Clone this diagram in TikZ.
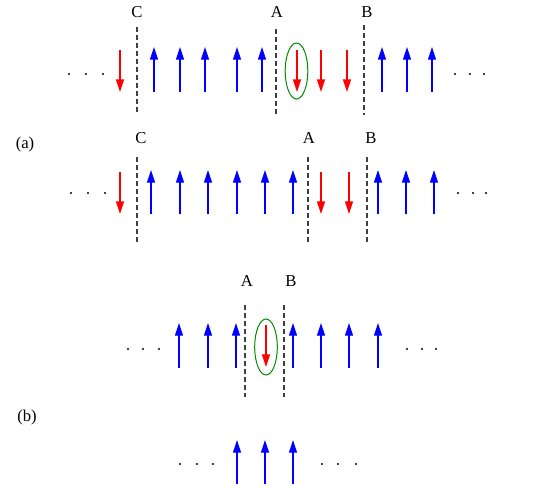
\documentclass[tikz,border=0pt]{standalone}
\usepackage{fontspec}
\setmainfont{Liberation Serif}
\usetikzlibrary{arrows.meta,shapes.geometric}

\begin{document}
\begin{tikzpicture}[x=0.75pt, y=-0.75pt,
  spin/.style  = {line width=1pt, -{Triangle[length=9.5pt,width=6pt]}},
  upspin/.style   = {spin, blue},
  downspin/.style = {spin, red},
  wall/.style  = {line width=0.9pt, black!75, dash pattern=on 3.75pt off 2.25pt},
  lbl/.style   = {font=\fontsize{12.5}{14}\selectfont, inner sep=0pt},
  flip/.style  = {draw=green!55!black, line width=0.75pt, ellipse,
                  minimum width=17pt, minimum height=42pt, inner sep=0pt},
  dot/.style   = {fill=black}
]
\useasboundingbox (0,0) rectangle (545,486);

% (a) upper row
\node[lbl] (C1) at (137,12) {C};
\node[lbl] (A1) at (277,12) {A};
\node[lbl] (B1) at (367,12) {B};
\coordinate (C1b) at (137,114); \coordinate (C1t) at (137,27);
\coordinate (A1b) at (276,115); \coordinate (A1t) at (276,29);
\coordinate (B1b) at (364,115); \coordinate (B1t) at (364,25);
\draw[wall] (C1t) -- (C1b);
\draw[wall] (A1t) -- (A1b);
\draw[wall] (B1t) -- (B1b);
\foreach \x in {69,86,103,455,470,484} \fill[dot] (\x,74) circle[radius=0.8pt];
\foreach \x in {154,180,205,237,262,382,407,432}
  \draw[upspin] (\x,92) -- (\x,47);
\foreach \x in {120,297,321,347}
  \draw[downspin] (\x,50) -- (\x,92);
\node[flip] (F1) at (296.5,71) {};

% (a) lower row
\node[lbl] (a) at (25,144) {(a)};
\node[lbl] (C2) at (141,138) {C};
\node[lbl] (A2) at (309,138) {A};
\node[lbl] (B2) at (371,138) {B};
\coordinate (C2t) at (137,157); \coordinate (C2b) at (137,243);
\coordinate (A2t) at (308,157); \coordinate (A2b) at (308,243);
\coordinate (B2t) at (367,157); \coordinate (B2b) at (367,243);
\draw[wall] (C2t) -- (C2b);
\draw[wall] (A2t) -- (A2b);
\draw[wall] (B2t) -- (B2b);
\foreach \x in {71,88,105,458,473,486} \fill[dot] (\x,193) circle[radius=0.8pt];
\foreach \x in {151,180,208,237,265,293,378,406,434}
  \draw[upspin] (\x,214) -- (\x,170);
\foreach \x in {120,321,349}
  \draw[downspin] (\x,172) -- (\x,214);

% (b) upper row
\node[lbl] (A3) at (247,281) {A};
\node[lbl] (B3) at (291,281) {B};
\coordinate (A3t) at (245,305); \coordinate (A3b) at (245,397);
\coordinate (B3t) at (284,305); \coordinate (B3b) at (284,397);
\draw[wall] (A3t) -- (A3b);
\draw[wall] (B3t) -- (B3b);
\foreach \x in {128,143,159,407,422,436} \fill[dot] (\x,349) circle[radius=0.8pt];
\foreach \x in {179,208,236,293,321,349,378}
  \draw[upspin] (\x,368) -- (\x,323);
\draw[downspin] (266,325) -- (266,367);
\node[flip] (F3) at (266,347) {};

% (b) lower row
\node[lbl] (b) at (27,417) {(b)};
\foreach \x in {180,197,213,322,338,356} \fill[dot] (\x,464) circle[radius=0.8pt];
\foreach \x in {237,265,293}
  \draw[upspin] (\x,484) -- (\x,440);
\end{tikzpicture}
\end{document}
